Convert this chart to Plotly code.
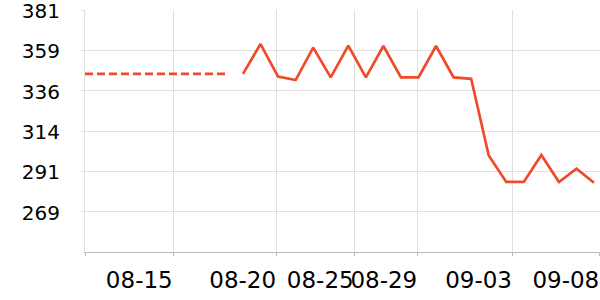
import plotly.graph_objects as go

# ---- data ----
dates = ["08-10", "08-11", "08-12", "08-13", "08-14", "08-15", "08-16", "08-17", "08-18", "08-19",
         "08-20", "08-21", "08-22", "08-23", "08-24", "08-25", "08-26", "08-27", "08-28", "08-29",
         "08-30", "08-31", "09-01", "09-02", "09-03", "09-04", "09-05", "09-06", "09-07", "09-08"]
dashed_dates = dates[0:9]
dashed_values = [345.5, 345.5, 345.5, 345.5, 345.5, 345.5, 345.5, 345.5, 345.5]
solid_dates = dates[9:30]
solid_values = [345.5, 362.1, 344.0, 342.1, 360.1, 343.6, 361.2, 343.6, 361.0, 343.6,
                343.6, 361.0, 343.6, 342.8, 300.2, 285.5, 285.5, 300.5, 285.5, 292.9, 285.1]

x_tick_pos = [0, 5.03, 10.92, 15.34, 18.96, 24.36, 29.33]
x_tick_text = ["", "08-15", "08-20", "08-25", "08-29", "09-03", "09-08"]
y_tick_vals = [269.0, 291.4, 313.8, 336.2, 358.6, 380.95]
y_tick_text = ["269", "291", "314", "336", "359", "381"]
y_range = [246.6, 381.0]
x_range = [0, 29.34]

pos = {d: i for i, d in enumerate(dates)}
color = "#ef4a2a"

fig = go.Figure()
fig.add_trace(go.Scatter(
    x=[pos[d] for d in dashed_dates], y=dashed_values, mode="lines",
    line=dict(color=color, width=2.7, dash="8px,4px"), hoverinfo="skip", cliponaxis=False))
fig.add_trace(go.Scatter(
    x=[pos[d] for d in solid_dates], y=solid_values, mode="lines",
    line=dict(color=color, width=2.7), hoverinfo="skip", cliponaxis=False))

fig.update_layout(
    width=600, height=300,
    margin=dict(l=85, r=0, t=10, b=48),
    paper_bgcolor="white", plot_bgcolor="white",
    showlegend=False,
    font=dict(family="DejaVu Sans", color="#000"),
)
fig.update_xaxes(
    range=x_range, tickmode="array", tickvals=x_tick_pos, ticktext=x_tick_text,
    showgrid=True, gridcolor="#e0e0e0", gridwidth=1,
    showline=True, linecolor="#bbbbbb", linewidth=1,
    ticks="outside", ticklen=3, tickcolor="#bbbbbb",
    tickfont=dict(size=23, color="#000"), tickangle=0,
    ticklabelshift=-34, ticklabelstandoff=4, ticklabeloverflow="allow",
    zeroline=False, fixedrange=True, automargin=False,
)
fig.update_yaxes(
    range=y_range, tickmode="array", tickvals=y_tick_vals, ticktext=y_tick_text,
    showgrid=True, gridcolor="#e0e0e0", gridwidth=1,
    showline=True, linecolor="#e0e0e0", linewidth=1,
    ticks="outside", ticklen=3, tickcolor="#e0e0e0",
    tickfont=dict(size=20, color="#000"),
    ticklabelstandoff=17, ticklabelshift=1, ticklabeloverflow="allow",
    zeroline=False, fixedrange=True, automargin=False,
)

fig.write_html("out.html", config={"displayModeBar": False})
